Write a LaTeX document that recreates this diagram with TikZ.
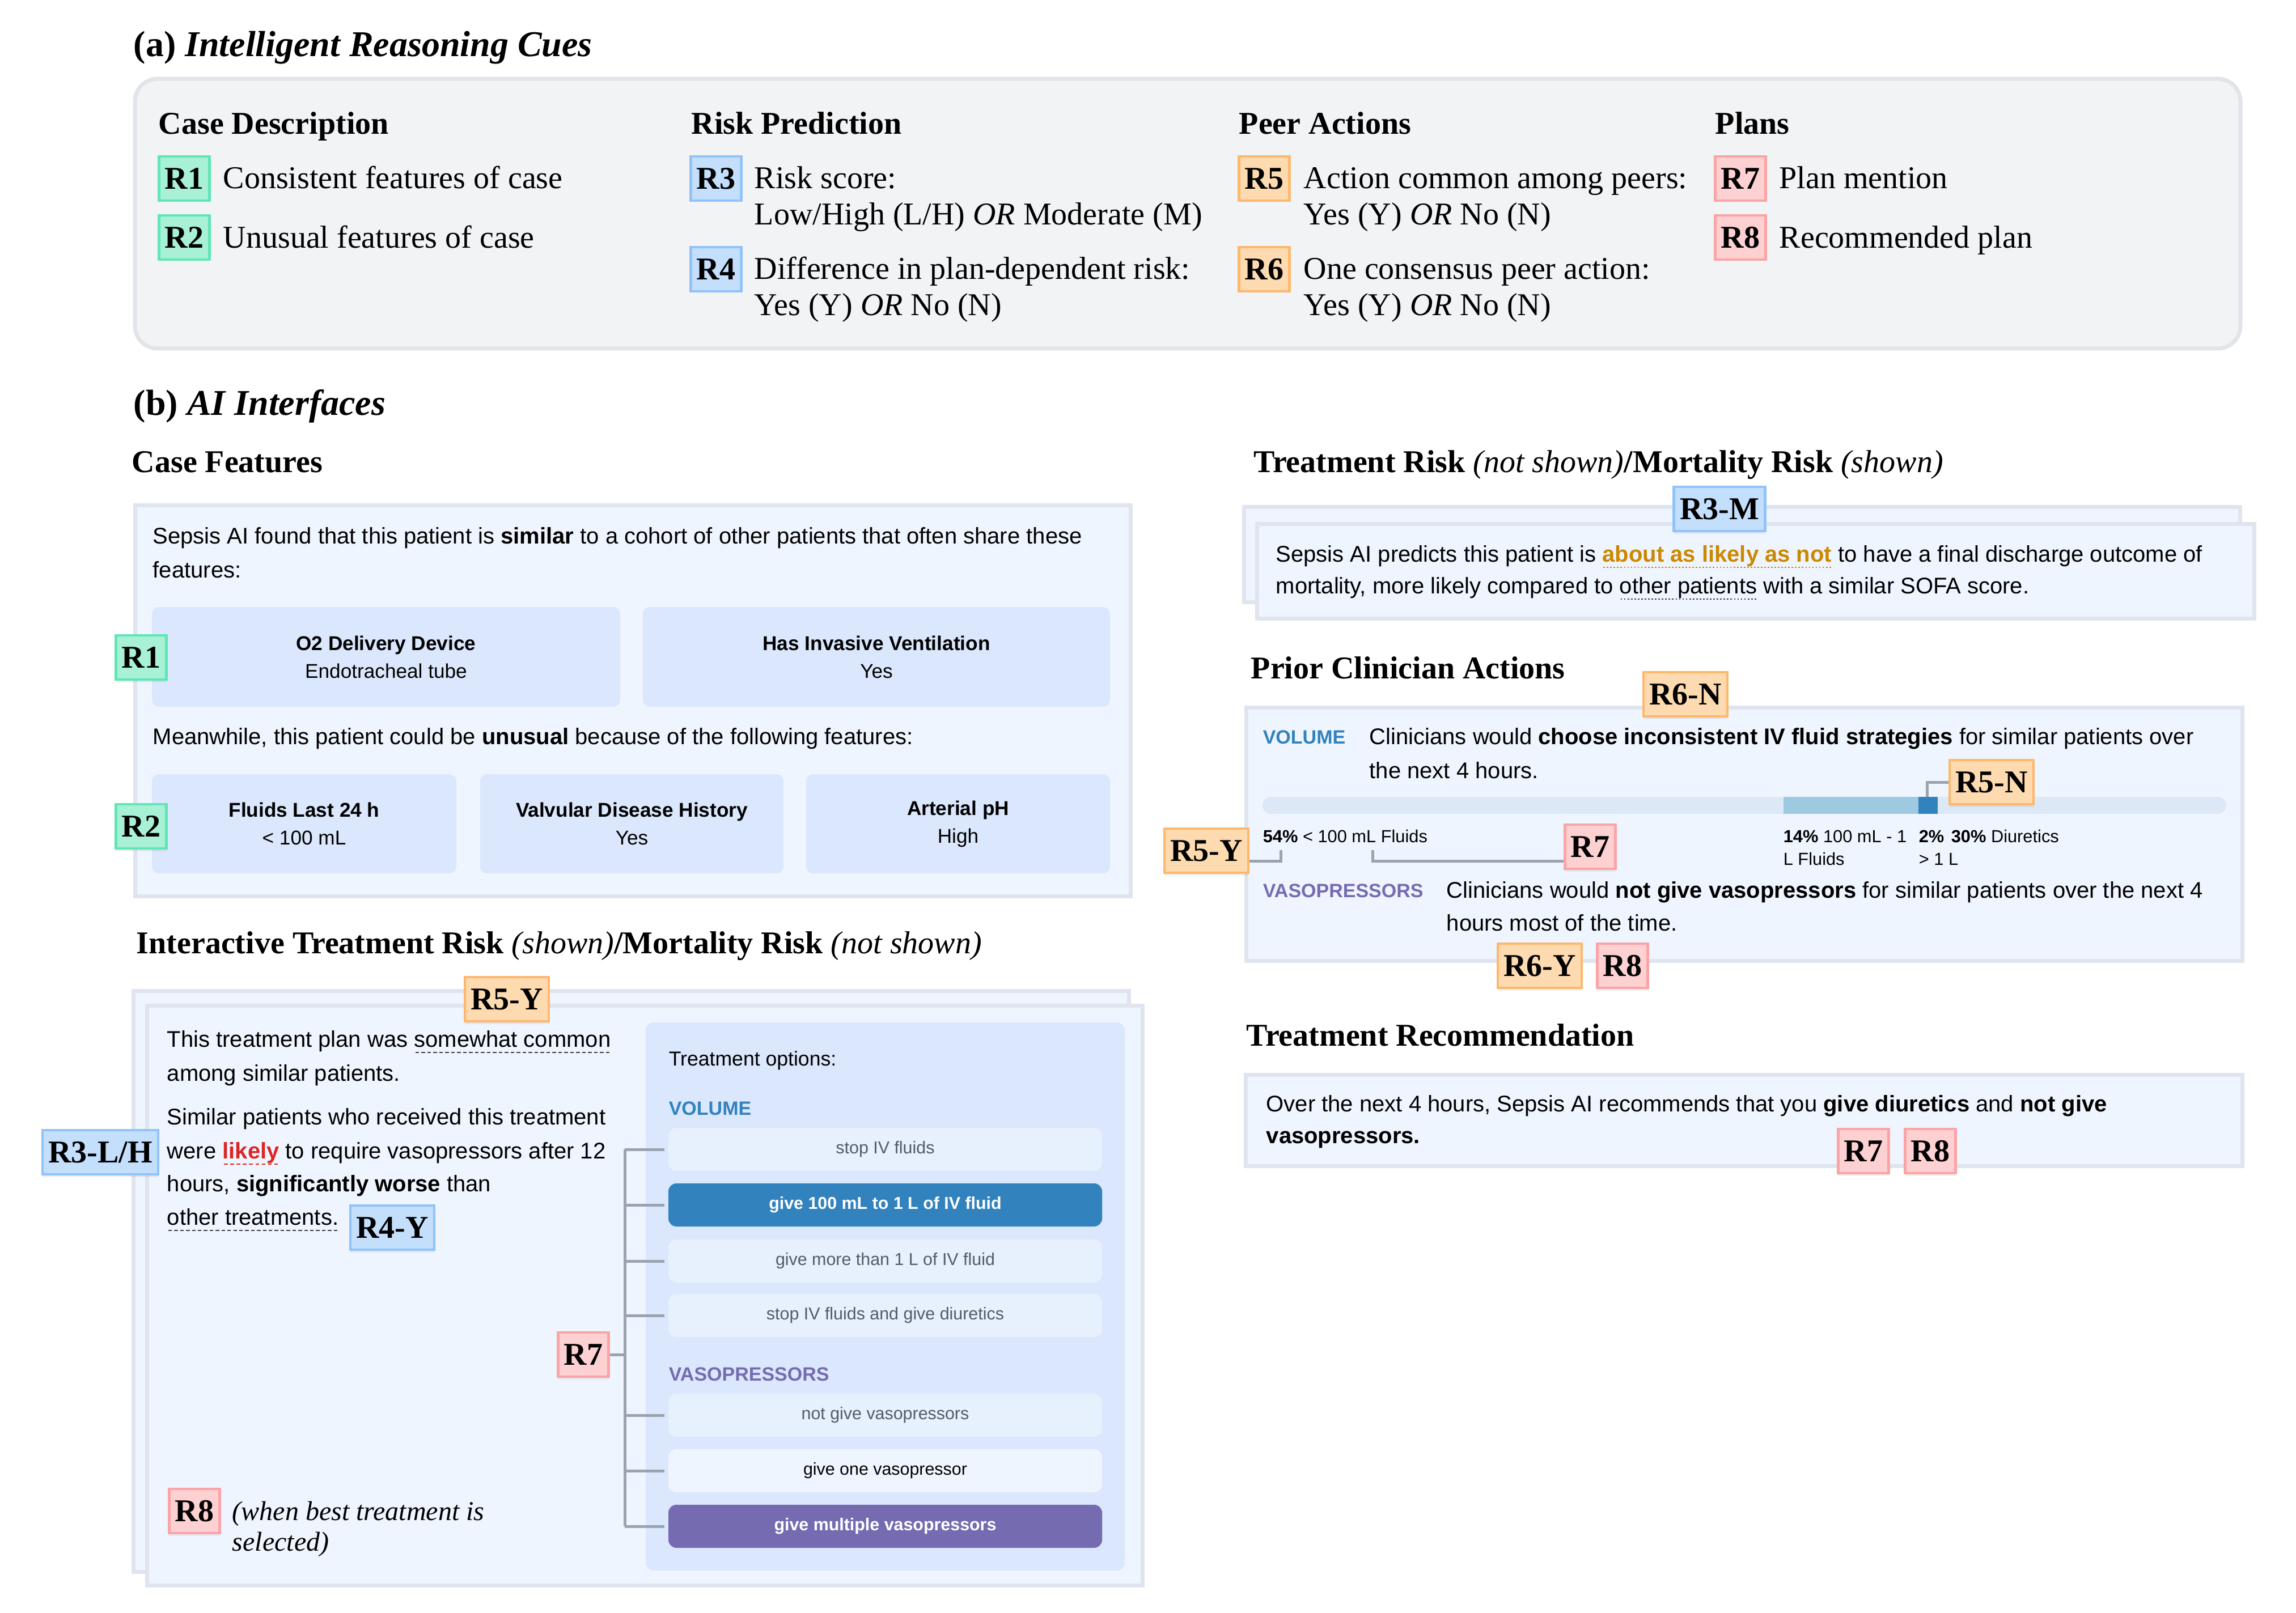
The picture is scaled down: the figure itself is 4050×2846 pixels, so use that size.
\documentclass[tikz,border=0pt]{standalone}
\usepackage{fontspec}
\setmainfont{Liberation Serif}
\newfontfamily\uifont{Liberation Sans}
\usetikzlibrary{shadows}
\definecolor{gf}{HTML}{A8F0D6}\definecolor{gd}{HTML}{5FE6B5}
\definecolor{bf}{HTML}{C4DFFC}\definecolor{bd}{HTML}{90C3FB}
\definecolor{of}{HTML}{FDDAB0}\definecolor{od}{HTML}{FDB86C}
\definecolor{rf}{HTML}{FDD0D2}\definecolor{rd}{HTML}{FCA3A5}
\definecolor{abox}{HTML}{F2F3F5}\definecolor{abord}{HTML}{E1E4E8}
\definecolor{pfill}{HTML}{EFF5FE}\definecolor{pbord}{HTML}{DFE4EE}
\definecolor{featc}{HTML}{DAE7FC}
\definecolor{optf}{HTML}{E7F0FD}\definecolor{optw}{HTML}{EFF5FE}
\definecolor{optg}{HTML}{555B66}
\definecolor{volb}{HTML}{3182BD}\definecolor{vasp}{HTML}{756BB1}
\definecolor{lkred}{HTML}{DC2626}\definecolor{goldtx}{HTML}{CC8800}
\definecolor{barbg}{HTML}{DCE8F5}\definecolor{barlt}{HTML}{9ECAE1}
\definecolor{brkc}{HTML}{9CA3AF}
\newcommand{\ulDash}[2][black!75]{\setbox0=\hbox{#2}\rlap{\color{#1}\raisebox{-2.8pt}{\hbox to \wd0{\xleaders\hbox to 2.6pt{\hss\vrule width 1.6pt height 0.55pt depth 0pt\hss}\hfill}}}\box0\relax}
\newcommand{\ulDots}[2][black!75]{\setbox0=\hbox{#2}\rlap{\color{#1}\raisebox{-2.8pt}{\hbox to \wd0{\xleaders\hbox to 1.5pt{\hss\vrule width 0.7pt height 0.6pt depth 0pt\hss}\hfill}}}\box0\relax}
\begin{document}
\begin{tikzpicture}[x=0.25pt,y=-0.25pt,
 lab/.style={line width=1.1pt, inner xsep=2.6pt, inner ysep=0pt, minimum height=19.5pt, text height=9.4pt, text depth=0pt, font=\fontsize{14}{14}\selectfont\bfseries},
 lg/.style={lab, fill=gf, draw=gd},
 lb/.style={lab, fill=bf, draw=bd},
 lo/.style={lab, fill=of, draw=od},
 lr/.style={lab, fill=rf, draw=rd},
 shd/.style={drop shadow={opacity=0.12, shadow xshift=0pt, shadow yshift=-1.2pt}},
 sect/.style={anchor=mid west, inner sep=0pt, yshift=-2.5pt, font=\fontsize{16}{19}\selectfont\bfseries},
 head/.style={anchor=mid west, inner sep=0pt, yshift=-2.5pt, font=\fontsize{14}{17}\selectfont\bfseries},
 desc/.style={anchor=mid west, inner sep=0pt, yshift=-2.5pt, font=\fontsize{14}{17}\selectfont},
 itl/.style={anchor=mid west, inner sep=0pt, yshift=-1.5pt, font=\fontsize{12}{14}\selectfont\itshape},
 tx/.style={anchor=mid west, inner sep=0pt, yshift=-1.25pt, font=\uifont\fontsize{10}{12}\selectfont},
 sm/.style={anchor=mid west, inner sep=0pt, yshift=-0.75pt, font=\uifont\fontsize{7.7}{9}\selectfont},
 cat/.style={anchor=mid west, inner sep=0pt, yshift=-1pt, font=\uifont\bfseries\fontsize{8.5}{10}\selectfont},
 pan/.style={fill=pfill, draw=pbord, line width=1.75pt},
 featbox/.style={fill=featc, rounded corners=3pt, inner sep=0pt, align=center, font=\uifont\fontsize{8.8}{12.25}\selectfont},
 opt/.style={fill=optf, rounded corners=3.5pt, inner sep=0pt, minimum width=191.25pt, minimum height=19pt, font=\uifont\fontsize{7.6}{9}\selectfont, text=optg},
 brk/.style={draw=brkc, line width=1.25pt},
]
\useasboundingbox (0,0) rectangle (4050,2846);
\fill[white] (0,0) rectangle (4050,2846);

% ---------------- (a)
\node[sect] (ta) at (235,80) {(a) \textit{Intelligent Reasoning Cues}};
\draw[fill=abox, draw=abord, line width=1.75pt, rounded corners=10pt] (238,139) rectangle (3952,615);
\node[head] (h1) at (279,217) {Case Description};
\node[head] (h2) at (1219,217) {Risk Prediction};
\node[head] (h3) at (2185,217) {Peer Actions};
\node[head] (h4) at (3025,217) {Plans};
\node[lg] (a1) at (325,315) {R1};
\node[lg] (a2) at (325,419) {R2};
\node[lb] (a3) at (1263,315) {R3};
\node[lb] (a4) at (1263,475) {R4};
\node[lo] (a5) at (2230,315) {R5};
\node[lo] (a6) at (2230,475) {R6};
\node[lr] (a7) at (3070,315) {R7};
\node[lr] (a8) at (3070,419) {R8};
\node[desc] (d1) at (393,313) {Consistent features of case};
\node[desc] (d2) at (393,418) {Unusual features of case};
\node[desc] (d3) at (1330,313) {Risk score:};
\node[desc] (d3b) at (1330,377) {Low/High (L/H) \textit{OR} Moderate (M)};
\node[desc] (d4) at (1330,473) {Difference in plan-dependent risk:};
\node[desc] (d4b) at (1330,537) {Yes (Y) \textit{OR} No (N)};
\node[desc] (d5) at (2299,313) {Action common among peers:};
\node[desc] (d5b) at (2299,377) {Yes (Y) \textit{OR} No (N)};
\node[desc] (d6) at (2299,473) {One consensus peer action:};
\node[desc] (d6b) at (2299,537) {Yes (Y) \textit{OR} No (N)};
\node[desc] (d7) at (3138,313) {Plan mention};
\node[desc] (d8) at (3138,418) {Recommended plan};

% ---------------- (b)
\node[sect] (tb) at (235,713) {(b) \textit{AI Interfaces}};

% Case features
\node[head] (hcf) at (232,814) {Case Features};
\draw[pan] (238,891) rectangle (1994,1581);
\node[tx] (cf1) at (269,945) {Sepsis AI found that this patient is \textbf{similar} to a cohort of other patients that often share these};
\node[tx] (cf2) at (269,1005) {features:};
\node[featbox, minimum width=206.5pt, minimum height=44pt] (f1) at (681,1159) {\textbf{O2 Delivery Device}\\Endotracheal tube};
\node[featbox, minimum width=206pt, minimum height=44pt] (f2) at (1546,1159) {\textbf{Has Invasive Ventilation}\\Yes};
\node[tx] (cf3) at (269,1299) {Meanwhile, this patient could be \textbf{unusual} because of the following features:};
\node[featbox, minimum width=134.25pt, minimum height=43.75pt] (f3) at (536.5,1453.5) {\textbf{Fluids Last 24 h}\\< 100 mL};
\node[featbox, minimum width=133.75pt, minimum height=43.75pt] (f4) at (1114.5,1453.5) {\textbf{Valvular Disease History}\\Yes};
\node[featbox, minimum width=134pt, minimum height=43.75pt] (f5) at (1690,1453.5) {\textbf{Arterial pH}\\High};
\node[lg,shd] (b1) at (249,1160) {R1};
\node[lg,shd] (b2) at (249,1458) {R2};

% Interactive treatment risk
\node[head] (hit) at (240,1663) {Interactive Treatment Risk {\mdseries\itshape (shown)}/Mortality Risk {\mdseries\itshape (not shown)}};
\draw[pan] (235,1748) rectangle (1991,2773);
\draw[pan] (259,1774) rectangle (2015,2797);
\node[tx] (it1) at (294,1833) {This treatment plan was \ulDash{somewhat common}};
\node[tx] (it2) at (294,1893) {among similar patients.};
\node[tx] (it3) at (294,1970) {Similar patients who received this treatment};
\node[tx] (it4) at (294,2030) {were {\color{lkred}\ulDash[lkred]{\textbf{likely}}} to require vasopressors after 12};
\node[tx] (it5) at (294,2088) {hours, \textbf{significantly worse} than};
\node[tx] (it6) at (294,2147) {\ulDash{other treatments.}};
\draw[fill=featc, rounded corners=3.5pt, draw=none] (1139,1804) rectangle (1984,2771);
\node[anchor=mid west, inner sep=0pt, yshift=-1pt, font=\uifont\fontsize{8.9}{11}\selectfont] (tog) at (1179,1867) {Treatment options:};
\node[cat, text=volb] (cvol) at (1179,1954) {VOLUME};
\node[opt] (o1) at (1561.5,2028) {stop IV fluids};
\node[opt, fill=volb, text=white, font=\uifont\bfseries\fontsize{7.6}{9}\selectfont] (o2) at (1561.5,2126) {give 100 mL to 1 L of IV fluid};
\node[opt] (o3) at (1561.5,2225) {give more than 1 L of IV fluid};
\node[opt] (o4) at (1561.5,2321) {stop IV fluids and give diuretics};
\node[cat, text=vasp] (cvas) at (1179,2423) {VASOPRESSORS};
\node[opt] (o5) at (1561.5,2497) {not give vasopressors};
\node[opt, fill=optw, text=black] (o6) at (1561.5,2595) {give one vasopressor};
\node[opt, fill=vasp, text=white, font=\uifont\bfseries\fontsize{7.6}{9}\selectfont] (o7) at (1561.5,2693) {give multiple vasopressors};
\coordinate (sp) at (1102,2000);
\foreach \o in {o1,o2,o3,o4,o5,o6,o7}{\draw[brk] ([xshift=-1.5pt]\o.west) -- (\o.west -| sp);}
\draw[brk] (o1.west -| sp) -- (o7.west -| sp);
\node[lo,shd] (l5y) at (894,1763) {R5-Y};
\node[lb,shd] (l3lh) at (177,2033) {R3-L/H};
\node[lb,shd] (l4y) at (692,2166) {R4-Y};
\node[lr,shd] (l7) at (1029,2390) {R7};
\draw[brk] (l7.east) -- (l7.east -| sp);
\node[lr,shd] (l8) at (343,2666) {R8};
\node[itl] (w1) at (409,2667) {(when best treatment is};
\node[itl] (w2) at (409,2721) {selected)};

% Treatment risk / mortality
\node[head] (htr) at (2211,814) {Treatment Risk {\mdseries\itshape (not shown)}/Mortality Risk {\mdseries\itshape (shown)}};
\draw[pan] (2194,894) rectangle (3951,1062);
\draw[pan] (2217,924) rectangle (3976,1091);
\node[lb,shd] (l3m) at (3033,898) {R3-M};
\node[tx] (mr1) at (2250,977) {Sepsis AI predicts this patient is {\color{goldtx}\ulDots[goldtx]{\textbf{about as likely as not}}} to have a final discharge outcome of};
\node[tx] (mr2) at (2250,1033) {mortality, more likely compared to \ulDots{other patients} with a similar SOFA score.};

% Prior clinician actions
\node[head] (hpc) at (2206,1178) {Prior Clinician Actions};
\draw[pan] (2198,1248) rectangle (3955,1695);
\node[lo,shd] (l6n) at (2973,1225) {R6-N};
\node[cat, text=volb] (pvol) at (2227,1299) {VOLUME};
\node[tx] (pc1) at (2415,1299) {Clinicians would \textbf{choose inconsistent IV fluid strategies} for similar patients over};
\node[tx] (pc2) at (2415,1359) {the next 4 hours.};
\fill[barbg, rounded corners=3.75pt] (2227,1406) rectangle (3927,1436);
\fill[barlt] (3146,1406) rectangle (3384,1436);
\fill[volb] (3384,1406) rectangle (3418,1436);
\node[sm] (p54) at (2227,1474) {\textbf{54\%} < 100 mL Fluids};
\node[sm] (p14) at (3145,1474) {\textbf{14\%} 100 mL - 1};
\node[sm] (p14b) at (3145,1514) {L Fluids};
\node[sm] (p2) at (3384,1474) {\textbf{2\%}};
\node[sm] (p2b) at (3384,1514) {> 1 L};
\node[sm] (p30) at (3441,1474) {\textbf{30\%} Diuretics};
\node[lo,shd] (l5yb) at (2128,1501) {R5-Y};
\node[lr,shd] (l7b) at (2805,1494) {R7};
\node[lo,shd] (l5n) at (3513,1380) {R5-N};
\coordinate (ca) at (2259,1500);
\coordinate (cb) at (2421,1500);
\coordinate (cc) at (3399,1406);
\draw[brk] ([yshift=-4.5pt]l5yb.east) -| (ca);
\draw[brk] ([yshift=-6.25pt]l7b.west) -| (cb);
\draw[brk] (l5n.west) -| (cc);
\node[cat, text=vasp] (pvas) at (2227,1570) {VASOPRESSORS};
\node[tx] (pc3) at (2551,1570) {Clinicians would \textbf{not give vasopressors} for similar patients over the next 4};
\node[tx] (pc4) at (2551,1628) {hours most of the time.};
\node[lo,shd] (l6y) at (2716,1704) {R6-Y};
\node[lr,shd] (l8b) at (2862,1704) {R8};

% Treatment recommendation
\node[head] (hrec) at (2198,1826) {Treatment Recommendation};
\draw[pan] (2197,1896) rectangle (3955,2057);
\node[tx] (rc1) at (2233,1947) {Over the next 4 hours, Sepsis AI recommends that you \textbf{give diuretics} and \textbf{not give}};
\node[tx] (rc2) at (2233,2003) {\textbf{vasopressors.}};
\node[lr,shd] (l7c) at (3287,2031) {R7};
\node[lr,shd] (l8c) at (3405,2031) {R8};
\end{tikzpicture}
\end{document}
